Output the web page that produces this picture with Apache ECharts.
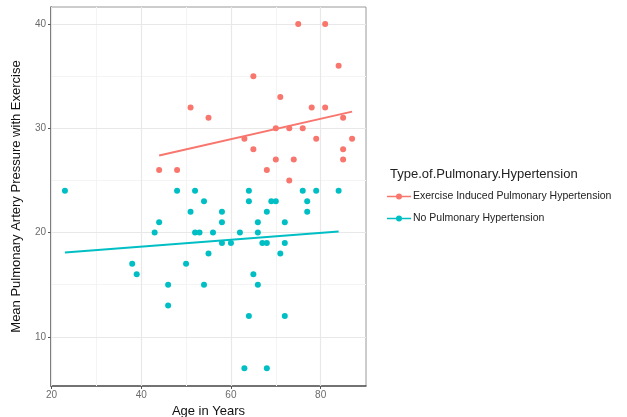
<!DOCTYPE html>
<html>
<head>
<meta charset="utf-8">
<script src="https://cdn.jsdelivr.net/npm/echarts@6/dist/echarts.min.js"></script>
<style>html,body{margin:0;padding:0;background:#fff;}#chart{width:627px;height:417px;}</style>
</head>
<body>
<div id="chart"></div>
<script>
const seriesNames = ['Exercise Induced Pulmonary Hypertension', 'No Pulmonary Hypertension'];
const exerciseInduced = [
  [75,40],[81,40],[84,36],[65,35],[71,33],[51,32],[78,32],[81,32],[55,31],[85,31],
  [70,30],[73,30],[76,30],[63,29],[79,29],[87,29],[65,28],[85,28],[70,27],[74,27],
  [85,27],[44,26],[48,26],[68,26],[73,25]
];
const noPH = [
  [23,24],[48,24],[52,24],[64,24],[76,24],[79,24],[84,24],
  [54,23],[64,23],[69,23],[70,23],[77,23],
  [51,22],[58,22],[68,22],[77,22],
  [44,21],[58,21],[66,21],[72,21],
  [43,20],[52,20],[53,20],[56,20],[62,20],[66,20],
  [58,19],[60,19],[67,19],[68,19],[72,19],
  [55,18],[71,18],
  [38,17],[50,17],
  [39,16],[65,16],
  [46,15],[54,15],[66,15],
  [46,13],
  [64,12],[72,12],
  [63,7],[68,7]
];
// fitted line endpoints
const exerciseFit = [[44,27.4],[87,31.6]];
const noPHFit = [[23,18.1],[84,20.1]];
const xTicks = [20,40,60,80];
const xMinor = [30,50,70];
const yTicks = [10,20,30,40];
const yMinor = [15,25,35];

const red = '#F8766D', cyan = '#00BFC4';
const font = 'Liberation Sans, Arial, sans-serif';
const chart = echarts.init(document.getElementById('chart'));

function gridLines(){
  const d = [];
  const minor = {color:'#f4f4f4',width:1,type:'solid'};
  const major = {color:'#e8e8e8',width:1.2,type:'solid'};
  xMinor.forEach(v=>d.push({xAxis:v, lineStyle:minor}));
  yMinor.forEach(v=>d.push({yAxis:v, lineStyle:minor}));
  xTicks.forEach(v=>d.push({xAxis:v, lineStyle:major}));
  yTicks.forEach(v=>d.push({yAxis:v, lineStyle:major}));
  return d;
}
const iconPath = 'path://M0,4.2 L24,4.2 L24,5.8 L0,5.8 Z M15,5 A3,3 0 1,1 9,5 A3,3 0 1,1 15,5 Z';

chart.setOption({
  animation:false,
  textStyle:{fontFamily:font},
  grid:{left:51,right:261,top:7,bottom:31,show:true,borderColor:'#9a9a9a',borderWidth:1,
    containLabel:false,outerBoundsMode:'none'},
  title:{text:'Type.of.Pulmonary.Hypertension',left:385,top:163,
    textStyle:{fontFamily:font,fontSize:13,fontWeight:'normal',color:'#222'}},
  legend:{orient:'vertical',left:382,top:186,itemGap:11,itemWidth:24,itemHeight:10,
    data:seriesNames.map(n=>({name:n,icon:iconPath})),
    textStyle:{fontFamily:font,fontSize:10.5,color:'#222',padding:[0,0,0,-3]}},
  xAxis:{type:'value',min:19.9,max:90.1,
    name:'Age in Years',nameLocation:'middle',nameGap:18,
    nameTextStyle:{fontFamily:font,fontSize:13,color:'#111'},
    axisLine:{show:true,onZero:false,lineStyle:{color:'#555',width:1.5}},
    axisTick:{show:true,customValues:xTicks,length:3,lineStyle:{color:'#555'}},
    axisLabel:{customValues:xTicks,fontSize:10,color:'#6b6b6b',margin:4,fontFamily:font},
    splitLine:{show:false}},
  yAxis:{type:'value',min:5.29,max:41.63,
    name:'Mean Pulmonary Artery Pressure with Exercise',nameLocation:'middle',nameGap:28,
    nameTextStyle:{fontFamily:font,fontSize:13,color:'#111'},
    axisLine:{show:true,onZero:false,lineStyle:{color:'#555',width:1.5}},
    axisTick:{show:true,customValues:yTicks,length:3,lineStyle:{color:'#555'}},
    axisLabel:{customValues:yTicks,fontSize:10,color:'#6b6b6b',margin:5,fontFamily:font},
    splitLine:{show:false}},
  series:[
    {type:'line',data:[],silent:true,z:0,zlevel:0,
      markLine:{silent:true,symbol:'none',label:{show:false},data:gridLines()}},
    {name:seriesNames[0],type:'scatter',zlevel:1,data:exerciseInduced,symbolSize:6,itemStyle:{color:red,opacity:1}},
    {name:seriesNames[1],type:'scatter',zlevel:1,data:noPH,symbolSize:6,itemStyle:{color:cyan,opacity:1}},
    {type:'line',zlevel:1,data:exerciseFit,showSymbol:false,lineStyle:{color:red,width:2},itemStyle:{color:red},silent:true},
    {type:'line',zlevel:1,data:noPHFit,showSymbol:false,lineStyle:{color:cyan,width:2},itemStyle:{color:cyan},silent:true}
  ]
});
</script>
</body>
</html>
